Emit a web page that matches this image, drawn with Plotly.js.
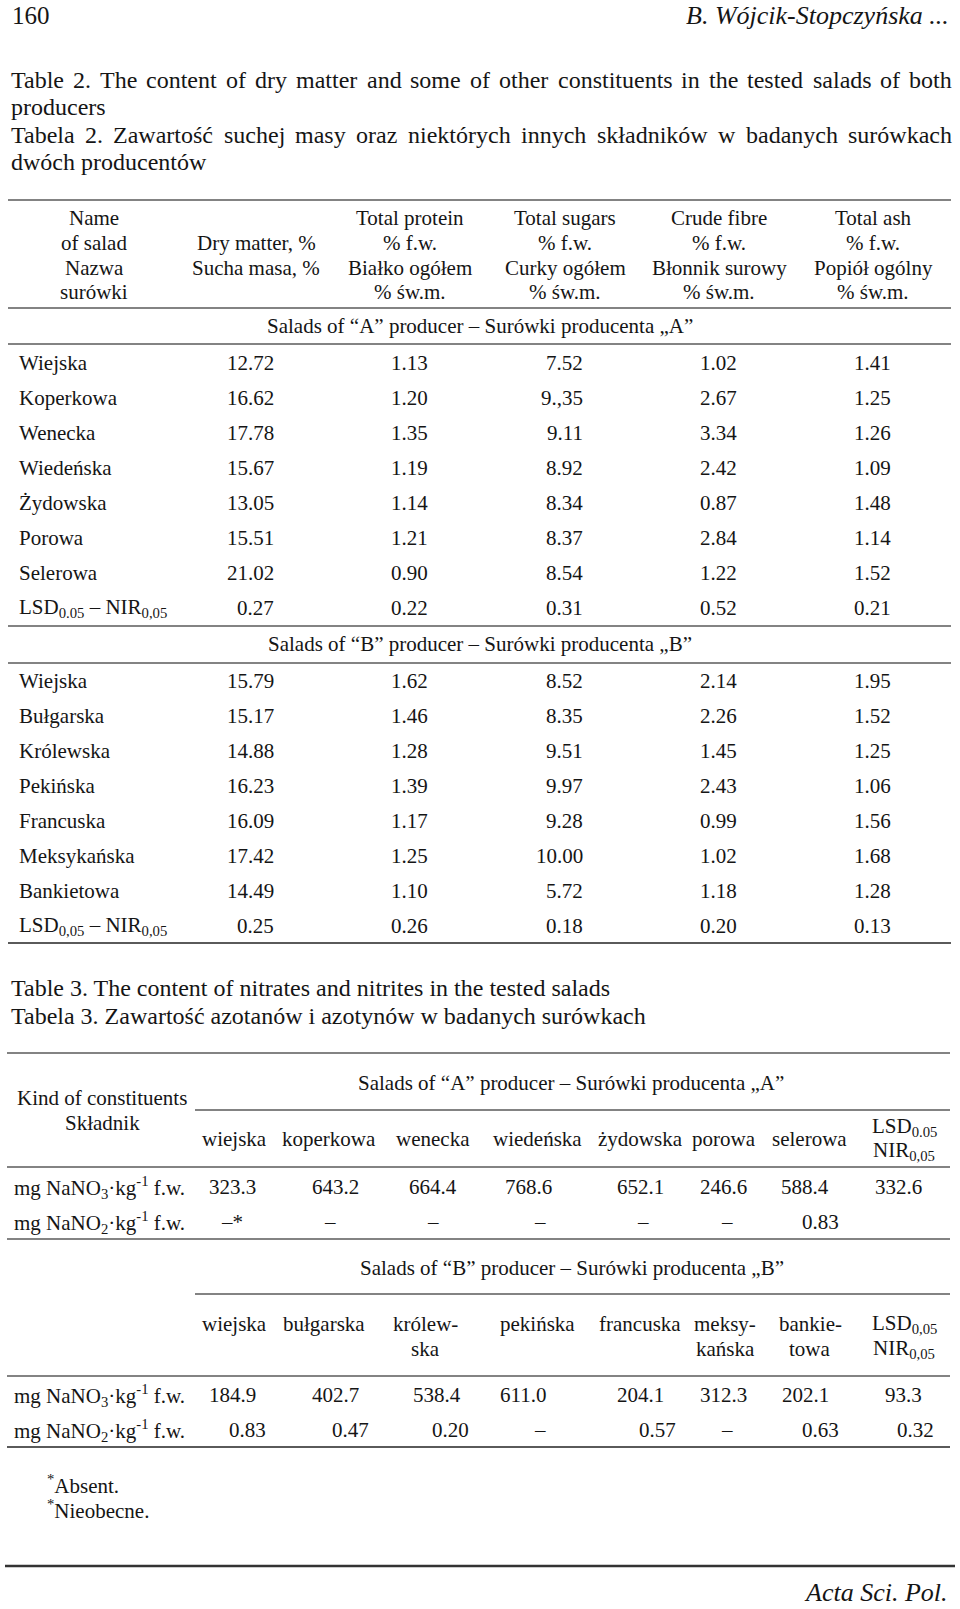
<!DOCTYPE html>
<html>
<head>
<meta charset="utf-8">
<script src="https://cdn.plot.ly/plotly-3.0.1.min.js"></script>
<style>html,body{margin:0;padding:0;background:#fff;}#chart{width:960px;height:1609px;}</style>
</head>
<body>
<div id="chart"></div>
<script>
// ---------------- DATA ----------------
const pageNumber = "160";
const runningHead = "B. Wójcik-Stopczyńska ...";
const journal = "Acta Sci. Pol.";

const table2Caption = [
  "Table 2. The content of dry matter and some of other constituents in the tested salads of both",
  "producers",
  "Tabela 2. Zawartość suchej masy oraz niektórych innych składników w badanych surówkach",
  "dwóch producentów"
];
const table2Justified = [true, false, true, false];

const t2HeadName = ["Name", "of salad", "Nazwa", "surówki"];
const t2HeadDry = ["Dry matter, %", "Sucha masa, %"];
const t2HeadProtein = ["Total protein", "% f.w.", "Białko ogółem", "% św.m."];
const t2HeadSugars = ["Total sugars", "% f.w.", "Curky ogółem", "% św.m."];
const t2HeadFibre = ["Crude fibre", "% f.w.", "Błonnik surowy", "% św.m."];
const t2HeadAsh = ["Total ash", "% f.w.", "Popiół ogólny", "% św.m."];

const sectionA = "Salads of “A” producer – Surówki producenta „A”";
const sectionB = "Salads of “B” producer – Surówki producenta „B”";

const saladsA = ["Wiejska", "Koperkowa", "Wenecka", "Wiedeńska", "Żydowska", "Porowa", "Selerowa", "LSD<sub>0.05</sub> – NIR<sub>0,05</sub>"];
const dryA     = ["12.72", "16.62", "17.78", "15.67", "13.05", "15.51", "21.02", "0.27"];
const proteinA = ["1.13", "1.20", "1.35", "1.19", "1.14", "1.21", "0.90", "0.22"];
const sugarsA  = ["7.52", "9.,35", "9.11", "8.92", "8.34", "8.37", "8.54", "0.31"];
const fibreA   = ["1.02", "2.67", "3.34", "2.42", "0.87", "2.84", "1.22", "0.52"];
const ashA     = ["1.41", "1.25", "1.26", "1.09", "1.48", "1.14", "1.52", "0.21"];

const saladsB = ["Wiejska", "Bułgarska", "Królewska", "Pekińska", "Francuska", "Meksykańska", "Bankietowa", "LSD<sub>0,05</sub> – NIR<sub>0,05</sub>"];
const dryB     = ["15.79", "15.17", "14.88", "16.23", "16.09", "17.42", "14.49", "0.25"];
const proteinB = ["1.62", "1.46", "1.28", "1.39", "1.17", "1.25", "1.10", "0.26"];
const sugarsB  = ["8.52", "8.35", "9.51", "9.97", "9.28", "10.00", "5.72", "0.18"];
const fibreB   = ["2.14", "2.26", "1.45", "2.43", "0.99", "1.02", "1.18", "0.20"];
const ashB     = ["1.95", "1.52", "1.25", "1.06", "1.56", "1.68", "1.28", "0.13"];

const table3Caption = [
  "Table 3. The content of nitrates and nitrites in the tested salads",
  "Tabela 3. Zawartość azotanów i azotynów w badanych surówkach"
];
const t3Kind = ["Kind of constituents", "Składnik"];
const t3RowLabels = ["mg NaNO<sub>3</sub>·kg<sup>-1</sup> f.w.", "mg NaNO<sub>2</sub>·kg<sup>-1</sup> f.w."];

const t3ColsA = ["wiejska", "koperkowa", "wenecka", "wiedeńska", "żydowska", "porowa", "selerowa"];
const t3LsdA = ["LSD<sub>0.05</sub>", "NIR<sub>0,05</sub>"];
const nitratesA = ["323.3", "643.2", "664.4", "768.6", "652.1", "246.6", "588.4", "332.6"];
const nitritesA = ["–*", "–", "–", "–", "–", "–", "0.83", ""];

const t3ColsB = [["wiejska"], ["bułgarska"], ["królew-", "ska"], ["pekińska"], ["francuska"], ["meksy-", "kańska"], ["bankie-", "towa"]];
const t3LsdB = ["LSD<sub>0,05</sub>", "NIR<sub>0,05</sub>"];
const nitratesB = ["184.9", "402.7", "538.4", "611.0", "204.1", "312.3", "202.1", "93.3"];
const nitritesB = ["0.83", "0.47", "0.20", "–", "0.57", "–", "0.63", "0.32"];

const footnotes = ["<sup>*</sup>Absent.", "<sup>*</sup>Nieobecne."];

// ---------------- LAYOUT / STYLE ----------------
const FONT = '"Liberation Serif", "Times New Roman", serif';
const INK = "#151515";
const RULE = "#5a5a5a";
const ann = [];
const shapes = [];

function txt(x, y, text, opts) {
  opts = opts || {};
  ann.push({
    xref: "x", yref: "y", x: x, y: y, text: text, showarrow: false,
    xanchor: opts.anchor || "center", yanchor: "middle",
    borderpad: 0,
    font: {family: FONT, size: opts.size || 21, color: INK, style: opts.italic ? "italic" : "normal"}
  });
}
function rule(x0, x1, y, w, c) {
  shapes.push({type: "line", xref: "x", yref: "y", x0: x0, x1: x1, y0: y, y1: y,
    line: {color: c || RULE, width: w || 1.4}});
}
const cv = document.createElement("canvas").getContext("2d");
function measure(t, size) { cv.font = size + "px " + FONT; return cv.measureText(t).width; }
function justify(line, x0, x1, y, size) {
  const words = line.split(" ");
  const widths = words.map(w => measure(w, size));
  const total = widths.reduce((a, b) => a + b, 0);
  const gap = (x1 - x0 - total) / (words.length - 1);
  let x = x0;
  words.forEach((w, i) => { txt(x, y, w, {anchor: "left", size: size}); x += widths[i] + gap; });
}

// page header
txt(11, 15, pageNumber, {anchor: "left", size: 25});
txt(950, 15, runningHead, {anchor: "right", size: 26, italic: true});

// Table 2 caption
const capY2 = [80, 107, 135, 162];
table2Caption.forEach((l, i) => {
  if (table2Justified[i]) justify(l, 10, 951, capY2[i], 24);
  else txt(10, capY2[i], l, {anchor: "left", size: 24});
});

// Table 2 header
const t2HeadY = [218, 243, 268, 292];
const t2HeadX = [94, 256, 410, 565, 719, 873];
t2HeadName.forEach((t, i) => txt(t2HeadX[0], t2HeadY[i], t));
t2HeadDry.forEach((t, i) => txt(t2HeadX[1], t2HeadY[i + 1], t));
[t2HeadProtein, t2HeadSugars, t2HeadFibre, t2HeadAsh].forEach((col, c) =>
  col.forEach((t, i) => txt(t2HeadX[c + 2], t2HeadY[i], t)));

rule(8, 951, 200);
rule(8, 951, 308);
txt(480, 326, sectionA);
rule(8, 951, 344);
rule(8, 951, 626);
txt(480, 644, sectionB);
rule(8, 951, 663);
rule(8, 951, 943, 2);

const t2LabelX = 18;
const t2ValX = [275, 429, 584, 738, 892];
function t2Block(labels, cols, y0) {
  labels.forEach((lab, r) => {
    const y = y0 + r * 35;
    txt(t2LabelX, y, lab, {anchor: "left"});
    cols.forEach((col, c) => txt(t2ValX[c], y, col[r], {anchor: "right"}));
  });
}
t2Block(saladsA, [dryA, proteinA, sugarsA, fibreA, ashA], 363);
t2Block(saladsB, [dryB, proteinB, sugarsB, fibreB, ashB], 681);

// Table 3 caption
txt(10, 988, table3Caption[0], {anchor: "left", size: 24});
txt(10, 1016, table3Caption[1], {anchor: "left", size: 24});

// Table 3 rules
rule(7, 950, 1053);
rule(195, 950, 1110);
rule(7, 950, 1167);
rule(7, 950, 1239);
rule(195, 950, 1294);
rule(7, 950, 1376);
rule(7, 950, 1447, 2);

txt(102, 1098, t3Kind[0]);
txt(102, 1123, t3Kind[1]);
txt(571, 1083, sectionA);
txt(572, 1268, sectionB);

// section A header
const t3HeadXA = [234, 329, 433, 537, 640, 724, 809];
t3ColsA.forEach((t, i) => txt(t3HeadXA[i], 1139, t));
txt(904, 1127, t3LsdA[0]);
txt(904, 1151, t3LsdA[1]);

// section B header
const t3HeadXB = [234, 324, 425, 537, 640, 725, 810];
t3ColsB.forEach((lines, i) => lines.forEach((t, j) => txt(t3HeadXB[i], 1324 + j * 25, t)));
txt(904, 1324, t3LsdB[0]);
txt(904, 1349, t3LsdB[1]);

// row labels
txt(13, 1187, t3RowLabels[0], {anchor: "left"});
txt(13, 1222, t3RowLabels[1], {anchor: "left"});
txt(13, 1395, t3RowLabels[0], {anchor: "left"});
txt(13, 1430, t3RowLabels[1], {anchor: "left"});

// values (decimal-tab positions)
const no3RightA = [257, 360, 458, 553, 665, 748, 830, 923];
const no3RightB = [257, 360, 462, 547, 665, 748, 830, 923];
const no2RightA = [244, 336, 439, 546, 649, 733, 840, 935];
const no2RightB = [267, 370, 470, 546, 677, 733, 840, 935];
function cell(v, xr, y) {
  if (v === "") return;
  if (v === "–") txt(xr - 6, y, v);
  else txt(xr, y, v, {anchor: "right"});
}
nitratesA.forEach((v, i) => cell(v, no3RightA[i], 1187));
nitritesA.forEach((v, i) => cell(v, no2RightA[i], 1222));
nitratesB.forEach((v, i) => cell(v, no3RightB[i], 1395));
nitritesB.forEach((v, i) => cell(v, no2RightB[i], 1430));

// footnotes
txt(46, 1484, footnotes[0], {anchor: "left"});
txt(46, 1509, footnotes[1], {anchor: "left"});

// page foot
rule(5, 955, 1566, 2.5, "#333");
txt(949, 1592, journal, {anchor: "right", size: 26, italic: true});

const layout = {
  width: 960, height: 1609,
  margin: {l: 0, r: 0, t: 0, b: 0, pad: 0},
  paper_bgcolor: "#fff", plot_bgcolor: "#fff",
  showlegend: false,
  xaxis: {range: [0, 960], visible: false, fixedrange: true},
  yaxis: {range: [1609, 0], visible: false, fixedrange: true},
  annotations: ann,
  shapes: shapes
};
Plotly.newPlot("chart", [{type: "scatter", x: [], y: [], mode: "markers", hoverinfo: "skip"}], layout,
  {displayModeBar: false, staticPlot: true});
</script>
</body>
</html>
